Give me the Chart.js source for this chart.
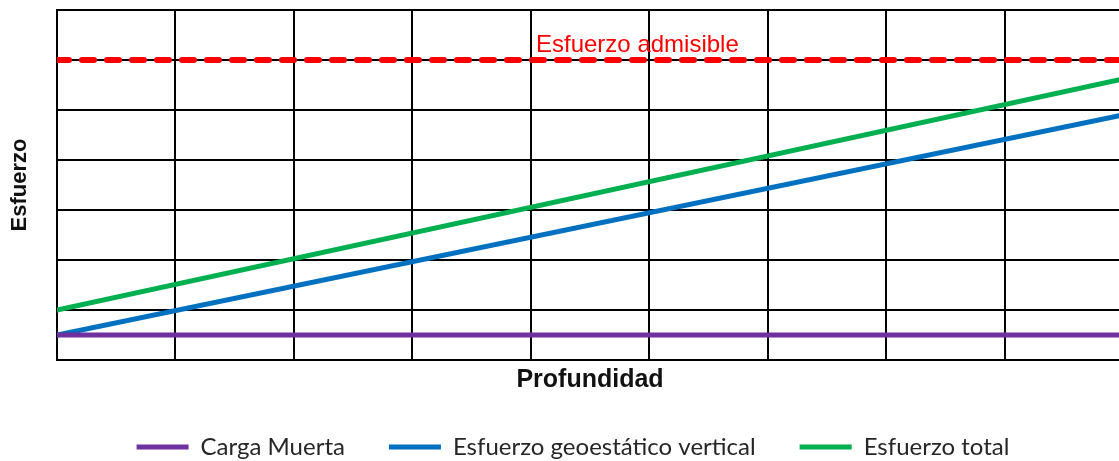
<!DOCTYPE html>
<html>
<head>
<meta charset="utf-8">
<script src="https://cdn.jsdelivr.net/npm/chart.js@4/dist/chart.umd.min.js"></script>
<style>
  html, body { margin: 0; padding: 0; background: #fff; overflow: hidden; }
  #wrap { width: 1125px; height: 461px; }
</style>
</head>
<body>
<div id="wrap"><canvas id="stressChart"></canvas></div>
<script>
// depth in grid units, stress in grid units (no scale printed on the axes)
var depth = [0, 9];
var cargaMuerta = [0.5, 0.5];
var geostatico = [0.5, 4.9];
var esfuerzoTotal = [1.0, 5.62];
var admisible = [6, 6];

var seriesNames = ["Carga Muerta", "Esfuerzo geoestático vertical", "Esfuerzo total"];
var admisibleLabel = "Esfuerzo admisible";
var admisibleLabelAt = 4.9;   // depth where the label is centred

const chartArea = document.getElementById("stressChart");

function toPoints(values) {
    var pts = [];
    for (var i = 0; i < depth.length; i++) {
        pts.push({ x: depth[i], y: values[i] });
    }
    return pts;
}

function lineSet(label, values, color, width) {
    return {
        label: label,
        data: toPoints(values),
        borderColor: color,
        backgroundColor: color,
        borderWidth: width,
        pointRadius: 0,
        pointStyle: 'line',
        tension: 0,
        borderCapStyle: 'round'
    };
}

// writes the allowable-stress caption just above the dashed line
const admisibleText = {
    id: 'admisibleText',
    afterDatasetsDraw(chart) {
        const ctx = chart.ctx;
        const x = chart.scales.x.getPixelForValue(admisibleLabelAt);
        const y = chart.scales.y.getPixelForValue(admisible[0]);
        ctx.save();
        ctx.fillStyle = '#ff0000';
        ctx.font = '24px "Liberation Sans", Arial, sans-serif';
        ctx.textAlign = 'center';
        ctx.textBaseline = 'alphabetic';
        ctx.fillText(admisibleLabel, x, y - 8);
        ctx.restore();
    }
};

var dashed = lineSet("admisible", admisible, '#ff0000', 6);
dashed.borderDash = [12, 13];

new Chart(chartArea, {
    type: 'line',
    data: {
        datasets: [
            lineSet(seriesNames[0], cargaMuerta, '#7030a0', 5),
            lineSet(seriesNames[1], geostatico, '#0070c0', 5),
            lineSet(seriesNames[2], esfuerzoTotal, '#00b050', 5),
            dashed
        ]
    },
    options: {
        responsive: true,
        maintainAspectRatio: false,
        animation: false,
        layout: { padding: { left: 23, right: 2, top: 10, bottom: -8 } },
        plugins: {
            tooltip: { enabled: false },
            legend: {
                position: 'bottom',
                labels: {
                    filter: function (item) { return item.datasetIndex < 3; },
                    usePointStyle: true,
                    pointStyleWidth: 52,
                    boxHeight: 4,
                    padding: 44,
                    color: '#262626',
                    font: { family: 'Lato, "Noto Sans", sans-serif', size: 24 }
                }
            }
        },
        scales: {
            x: {
                type: 'linear',
                min: 0,
                max: 9,
                ticks: { display: false, stepSize: 1 },
                grid: { color: '#000', lineWidth: 2, drawTicks: false },
                border: { display: true, color: '#000', width: 2 },
                title: {
                    display: true,
                    text: 'Profundidad',
                    color: '#111',
                    font: { family: '"Liberation Sans", Arial, sans-serif', size: 25, weight: 'bold' },
                    padding: { top: 0, bottom: -4 }
                },
                afterFit: function (axis) { axis.height = 31; }
            },
            y: {
                min: 0,
                max: 7,
                ticks: { display: false, stepSize: 1 },
                grid: { color: '#000', lineWidth: 2, drawTicks: false },
                border: { display: true, color: '#000', width: 2 },
                title: {
                    display: true,
                    text: 'Esfuerzo',
                    color: '#111',
                    font: { family: '"Liberation Sans", Arial, sans-serif', size: 22, weight: 'bold' },
                    padding: { top: -16, bottom: 0 }
                },
                afterFit: function (axis) { axis.width = 34; }
            }
        }
    },
    plugins: [admisibleText]
});
</script>
</body>
</html>
